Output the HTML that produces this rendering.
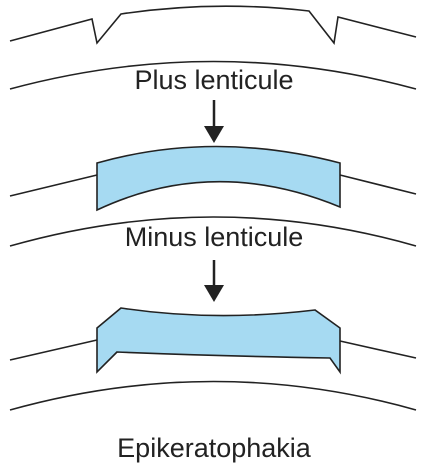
<!DOCTYPE html>
<html><head><meta charset="utf-8"><style>
html,body{margin:0;padding:0;background:#fff;}
svg{display:block;}
text{font-family:"Liberation Sans",sans-serif;font-size:27px;fill:#222;text-anchor:middle;}
</style></head><body>
<svg width="428" height="469" viewBox="0 0 428 469">
<g fill="none" stroke="#222" stroke-width="1.6" stroke-linejoin="miter">
<path d="M10,41 L92,19 L97,43 L121,14 Q214,0 309,11 L334,43 L338,17 L416,37"/>
<path d="M10,89 Q214,34 416,89"/>
<path d="M10,196 L97,175"/>
<path d="M340,175 L416,194"/>
<path d="M10,246 Q214,188 416,246"/>
<path d="M10,360 L97,340"/>
<path d="M340,341 L416,358"/>
<path d="M10,410 Q214,353 416,410"/>
</g>
<path d="M97,163 Q214,130 340,163 L340,207 Q214,155 97,210 Z" fill="#a6daf2" stroke="#222" stroke-width="1.6"/>
<path d="M97,328 L121,308 Q214,322 315,310 L340,328 L340,372 L330,358 Q214,356 117,352 L97,372 Z" fill="#a6daf2" stroke="#222" stroke-width="1.6"/>
<g>
<line x1="214" y1="100" x2="214" y2="128" stroke="#222" stroke-width="2.5"/>
<polygon points="204,126 224,126 214,143" fill="#222"/>
</g>
<g>
<line x1="214" y1="260" x2="214" y2="287" stroke="#222" stroke-width="2.5"/>
<polygon points="204,285 224,285 214,302" fill="#222"/>
</g>
<text x="214" y="89">Plus lenticule</text>
<text x="214" y="246">Minus lenticule</text>
<text x="214" y="457">Epikeratophakia</text>
</svg>
</body></html>
